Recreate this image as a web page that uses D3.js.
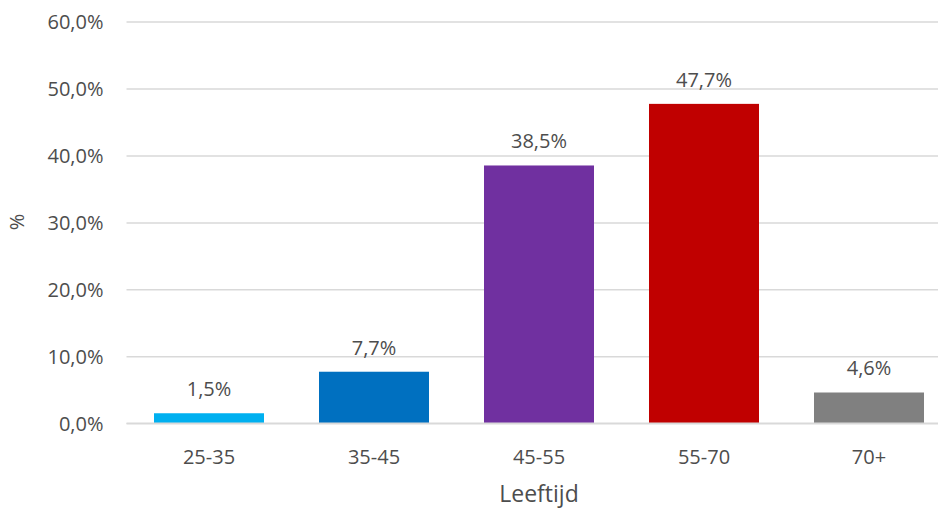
<!DOCTYPE html>
<html><head><meta charset="utf-8">
<script src="https://cdn.jsdelivr.net/npm/d3@7"></script>
<style>body{margin:0;background:#fff}svg{display:block}text{font-family:"Open Sans",sans-serif;fill:#4d4d4d}</style>
</head><body><svg id="c" width="938" height="510"></svg>
<script>
const categories = ["25-35","35-45","45-55","55-70","70+"];
const values = [1.5, 7.7, 38.5, 47.7, 4.6];
const colors = ["#00B0F0","#0070C0","#7030A0","#C00000","#808080"];
const yTicks = [0,10,20,30,40,50,60];
const xTitle = "Leeftijd";
const yTitle = "%";

const svg = d3.select("#c");
const fmt = v => v.toFixed(1).replace(".", ",") + "%";
const x = d3.scaleBand().domain(categories).range([126.5, 951.5]).paddingInner(1/3).paddingOuter(1/6);
const y = d3.scaleLinear().domain([0,60]).range([423.3, 21.5]);

const yAxis = svg.append("g").attr("transform","translate(126.5,0)")
  .call(d3.axisLeft(y).tickValues(yTicks).tickSize(-830).tickFormat(fmt).tickPadding(23));
yAxis.select(".domain").remove();
yAxis.selectAll(".tick line").attr("stroke","#d9d9d9").attr("stroke-width",1.5);
yAxis.selectAll(".tick text").style("font-size","20px").attr("fill","#4d4d4d").attr("font-family","Open Sans").attr("dy","0.35em");

svg.append("g").selectAll("rect").data(values).join("rect")
  .attr("x",(d,i)=>x(categories[i])).attr("width",x.bandwidth())
  .attr("y",d=>y(d)).attr("height",d=>y(0)-y(d)).attr("fill",(d,i)=>colors[i]);

svg.append("line").attr("x1",126.5).attr("x2",956).attr("y1",y(0)).attr("y2",y(0)).attr("stroke","#d9d9d9").attr("stroke-width",1.5);

svg.append("g").selectAll("text").data(values).join("text")
  .attr("x",(d,i)=>x(categories[i])+x.bandwidth()/2).attr("y",d=>y(d)-17)
  .attr("text-anchor","middle").style("font-size","20px").text(fmt);

const xAxis = svg.append("g").attr("transform",`translate(0,${y(0)})`)
  .call(d3.axisBottom(x).tickSize(0).tickPadding(27));
xAxis.select(".domain").remove();
xAxis.selectAll(".tick text").style("font-size","20px").attr("fill","#4d4d4d").attr("font-family","Open Sans");

svg.append("text").attr("x",539).attr("y",502).attr("text-anchor","middle").style("font-size","23px").text(xTitle);
svg.append("text").attr("transform","translate(24,222) rotate(-90)").attr("text-anchor","middle").style("font-size","20px").text(yTitle);
</script></body></html>
